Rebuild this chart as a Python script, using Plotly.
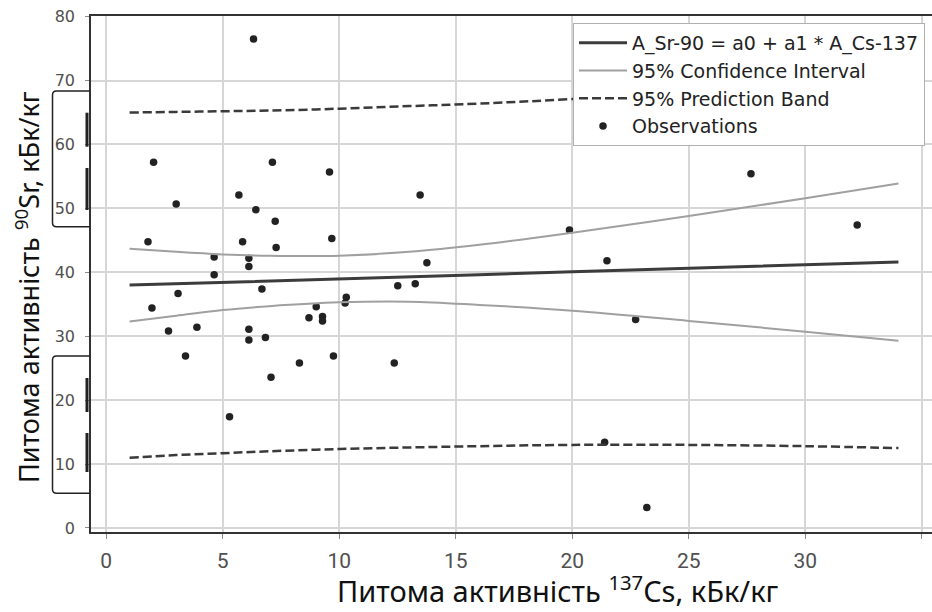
import plotly.graph_objects as go

# ---------------- data ----------------
obs_cs = [6.32, 2.03, 7.13, 9.58, 5.69, 13.47, 3.00, 6.42, 7.25, 1.79,
          5.85, 9.68, 7.29, 4.63, 6.12, 6.12, 4.63, 13.76, 12.51, 13.26,
          3.08, 6.68, 1.96, 10.30, 10.25, 9.01, 8.70, 9.28, 9.28, 2.67,
          3.89, 6.12, 6.12, 6.83, 3.40, 9.75, 8.29, 12.36, 7.07, 5.29,
          27.67, 32.23, 19.88, 21.49, 22.72, 21.39, 23.20]
obs_sr = [76.5, 57.2, 57.2, 55.7, 52.1, 52.1, 50.7, 49.8, 48.0, 44.8,
          44.8, 45.3, 43.9, 42.4, 42.2, 40.9, 39.6, 41.5, 37.9, 38.2,
          36.7, 37.4, 34.4, 36.1, 35.2, 34.6, 32.9, 33.1, 32.4, 30.8,
          31.4, 31.1, 29.4, 29.8, 26.9, 26.9, 25.8, 25.8, 23.6, 17.4,
          55.4, 47.4, 46.6, 41.8, 32.6, 13.4, 3.2]

line_x = [1, 3, 5, 7, 10, 13, 16, 20, 25, 30, 34]
fit_y = [38.0, 38.2, 38.4, 38.7, 39.0, 39.3, 39.6, 40.1, 40.6, 41.1, 41.6]
ci_upper = [43.7, 43.2, 42.8, 42.6, 42.6, 43.2, 44.3, 46.2, 48.8, 51.6, 53.9]
ci_lower = [32.3, 33.2, 34.1, 34.7, 35.3, 35.4, 34.9, 34.0, 32.4, 30.7, 29.3]
pb_upper = [65.0, 65.1, 65.2, 65.3, 65.6, 66.0, 66.4, 67.1, 68.2, 69.5, 70.7]
pb_lower = [11.0, 11.4, 11.7, 12.0, 12.35, 12.6, 12.8, 13.0, 13.0, 12.8, 12.5]

x_ticks = [0, 5, 10, 15, 20, 25, 30, 35]
y_ticks = [0, 10, 20, 30, 40, 50, 60, 70, 80]

legend_names = ["A_Sr-90 = a0 + a1 * A_Cs-137", "95% Confidence Interval",
                "95% Prediction Band", "Observations"]
x_title = "Питома активність <sup>137</sup>Cs, кБк/кг"
y_title = "Питома активність <sup>90</sup>Sr, кБк/кг"

# ---------------- figure ----------------
W, H = 932, 612
ML, MR, MT, MB = 91, 0, 16, 80
PW, PH = W - ML - MR, H - MT - MB


def pxx(p):
    return (p - ML) / PW


def pxy(p):
    return (H - MB - p) / PH


fig = go.Figure()

fig.add_trace(go.Scatter(x=obs_cs, y=obs_sr, mode="markers", name=legend_names[3],
                         marker=dict(color="#222222", size=7.5), legendrank=4))
fig.add_trace(go.Scatter(x=line_x, y=fit_y, mode="lines", name=legend_names[0],
                         line=dict(color="#3c3c3c", width=3), legendrank=1))
fig.add_trace(go.Scatter(x=line_x, y=ci_upper, mode="lines", name=legend_names[1],
                         line=dict(color="#a0a0a0", width=2), legendrank=2,
                         legendgroup="ci", line_shape="spline"))
fig.add_trace(go.Scatter(x=line_x, y=ci_lower, mode="lines", name=legend_names[1],
                         line=dict(color="#a0a0a0", width=2), showlegend=False,
                         legendgroup="ci", line_shape="spline"))
fig.add_trace(go.Scatter(x=line_x, y=pb_upper, mode="lines", name=legend_names[2],
                         line=dict(color="#3a3a3a", width=2.5, dash="9px,4px"),
                         legendrank=3, legendgroup="pb", line_shape="spline"))
fig.add_trace(go.Scatter(x=line_x, y=pb_lower, mode="lines", name=legend_names[2],
                         line=dict(color="#3a3a3a", width=2.5, dash="9px,4px"),
                         showlegend=False, legendgroup="pb", line_shape="spline"))

tick_font_y = dict(family="DejaVu Sans", size=16, color="#505050")
tick_font_x = dict(family="Liberation Sans Narrow, Roboto, DejaVu Sans", size=21, color="#505050")

fig.update_xaxes(range=[-0.656, 35.44], tickvals=x_ticks, ticktext=[str(v) for v in x_ticks],
                 showgrid=True, gridcolor="#d6d6d6", gridwidth=1.5, zeroline=False,
                 showline=True, linecolor="#333333", linewidth=1.5, mirror=True,
                 ticks="outside", ticklen=5, tickcolor="#888888", tickfont=tick_font_x,
                 ticklabelstandoff=4)
fig.update_yaxes(range=[-0.63, 80.1], tickvals=y_ticks, ticktext=[str(v) for v in y_ticks],
                 showgrid=True, gridcolor="#d6d6d6", gridwidth=1.5, zeroline=False,
                 showline=True, linecolor="#333333", linewidth=1.5,
                 ticks="outside", ticklen=4, tickcolor="#888888", tickfont=tick_font_y,
                 ticklabelstandoff=7)

shapes = []
# darker boxes over the grid
for (x0, x1, y0, y1) in [(0, 5, 40, 50), (0, 5, 10, 20)]:
    shapes.append(dict(type="rect", xref="x", yref="y", x0=x0, x1=x1, y0=y0, y1=y1,
                       line=dict(color="#a6a6a6", width=1.3), layer="below"))

# left brackets
for (top, bot) in [(91, 226.7), (356, 493.3)]:
    r = 4
    path = (f"M {pxx(90)},{pxy(top)} L {pxx(52.5 + r)},{pxy(top)} "
            f"Q {pxx(52.5)},{pxy(top)} {pxx(52.5)},{pxy(top + r)} "
            f"L {pxx(52.5)},{pxy(bot - r)} "
            f"Q {pxx(52.5)},{pxy(bot)} {pxx(52.5 + r)},{pxy(bot)} "
            f"L {pxx(90)},{pxy(bot)}")
    shapes.append(dict(type="path", xref="paper", yref="paper", path=path,
                       line=dict(color="#222222", width=1.5)))
for (y0, y1) in [(112.7, 146.7), (168, 210), (378, 412), (433, 472)]:
    shapes.append(dict(type="line", xref="paper", yref="paper",
                       x0=pxx(87), x1=pxx(87), y0=pxy(y0), y1=pxy(y1),
                       line=dict(color="#222222", width=3)))

annotations = [
    dict(text=x_title, xref="paper", yref="paper", x=pxx(558), y=pxy(589),
         xanchor="center", yanchor="middle", showarrow=False,
         font=dict(family="Noto Sans", size=29, color="#111111")),
    dict(text=y_title, xref="paper", yref="paper", x=pxx(27), y=pxy(287),
         xanchor="center", yanchor="middle", showarrow=False, textangle=-90,
         font=dict(family="Noto Sans", size=27, color="#111111")),
]

fig.update_layout(
    width=W, height=H,
    margin=dict(l=ML, r=MR, t=MT, b=MB, pad=0),
    paper_bgcolor="white", plot_bgcolor="white",
    showlegend=True,
    legend=dict(x=pxx(573), y=pxy(23), xanchor="left", yanchor="top",
                bgcolor="#ffffff", bordercolor="#b0b0b0", borderwidth=1,
                font=dict(family="DejaVu Sans", size=19, color="#222222"),
                itemwidth=48, tracegroupgap=0, traceorder="normal"),
    shapes=shapes, annotations=annotations,
)

fig.write_html("out.html", config={"displayModeBar": False},
               post_script="document.body.style.margin='0';document.body.style.overflow='hidden';")
